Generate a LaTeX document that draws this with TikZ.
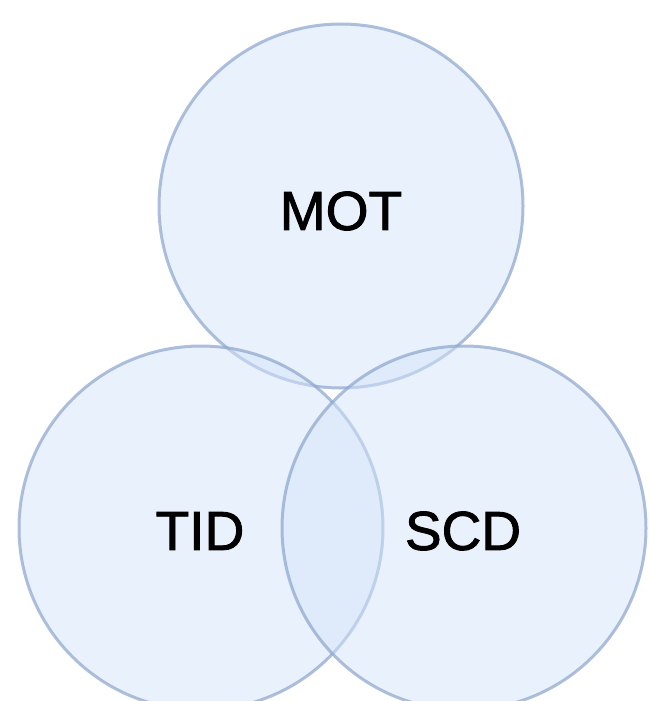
\documentclass[tikz,border=0pt]{standalone}
\usepackage{fontspec}
\setmainfont{Liberation Sans}
\newfontfamily\lblfont[FakeBold=1.6]{Liberation Sans}
\begin{document}
\begin{tikzpicture}[x=1pt,y=-1pt,
  setcircle/.style={circle, minimum size=364pt, inner sep=0pt,
    fill={rgb,255:red,212;green,227;blue,249}, fill opacity=0.5,
    draw={rgb,255:red,140;green,165;blue,205}, draw opacity=0.7, line width=3pt},
  setlabel/.style={font=\lblfont\fontsize{55}{60}\selectfont, text=black, inner sep=0pt}]
\useasboundingbox (0,0) rectangle (649,701);
\node[setcircle] (mot) at (341,206) {};
\node[setcircle] (tid) at (201,528) {};
\node[setcircle] (scd) at (464,528) {};
\node[setlabel] (motl) at (341,211) {MOT};
\node[setlabel] (tidl) at (200,531) {TID};
\node[setlabel] (scdl) at (463,531) {SCD};
\end{tikzpicture}
\end{document}
